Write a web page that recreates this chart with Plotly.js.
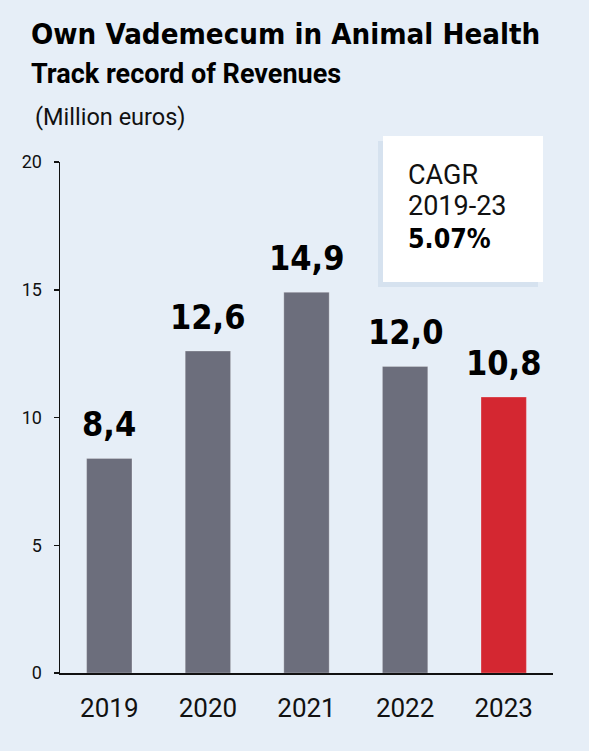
<!DOCTYPE html>
<html>
<head>
<meta charset="utf-8">
<script src="https://cdn.plot.ly/plotly-3.0.1.min.js"></script>
<style>html,body{margin:0;padding:0;background:#e6eef7;}</style>
</head>
<body>
<div id="chart" style="width:589px;height:751px;"></div>
<script>
const years = ["2019", "2020", "2021", "2022", "2023"];
const revenues = [8.4, 12.6, 14.9, 12.0, 10.8];
const barColors = ["#6c6e7c", "#6c6e7c", "#6c6e7c", "#6c6e7c", "#d42731"];
const yTicks = [0, 5, 10, 15, 20];
const titleText = "Own Vademecum in Animal Health";
const subtitleText = "Track record of Revenues";
const unitText = "(Million euros)";
const cagrLines = ["CAGR", "2019-23", "5.07%"];

const condensed = "DejaVu Sans Condensed, DejaVu Sans, sans-serif";
const roboto = "Roboto, sans-serif";

const trace = {
  type: "bar",
  x: years,
  y: revenues,
  marker: {color: barColors, line: {color: "rgba(255,255,255,0.25)", width: 1}},
  width: 0.46,
  hoverinfo: "none"
};

const annotations = [];
years.forEach((yr, i) => {
  annotations.push({
    x: i, y: revenues[i], xref: "x", yref: "y",
    text: revenues[i].toFixed(1).replace(".", ","),
    showarrow: false, yanchor: "bottom", yshift: 12,
    font: {family: condensed, size: 34, color: "#000", weight: 700}
  });
});

function px(xp) { return (xp - 60) / 493; }
function py(yp) { return (673 - yp) / 511; }

annotations.push({xref: "paper", yref: "paper", x: px(29), y: py(15), xanchor: "left", yanchor: "top",
  text: titleText, showarrow: false, font: {family: condensed, size: 29.2, color: "#000", weight: 700}});
annotations.push({xref: "paper", yref: "paper", x: px(29), y: py(56), xanchor: "left", yanchor: "top",
  text: subtitleText, showarrow: false, font: {family: "Liberation Sans Narrow, " + roboto, size: 27, color: "#000", weight: 700}});
annotations.push({xref: "paper", yref: "paper", x: px(33), y: py(101), xanchor: "left", yanchor: "top",
  text: unitText, showarrow: false, font: {family: roboto, size: 23.5, color: "#111"}});

annotations.push({xref: "paper", yref: "paper", x: px(406), y: py(157), xanchor: "left", yanchor: "top",
  text: cagrLines[0], showarrow: false, font: {family: roboto, size: 27, color: "#111"}});
annotations.push({xref: "paper", yref: "paper", x: px(406), y: py(188), xanchor: "left", yanchor: "top",
  text: cagrLines[1], showarrow: false, font: {family: roboto, size: 27, color: "#111"}});
annotations.push({xref: "paper", yref: "paper", x: px(406), y: py(221), xanchor: "left", yanchor: "top",
  text: cagrLines[2], showarrow: false, font: {family: condensed, size: 26.5, color: "#000", weight: 700}});

const shapes = [
  {type: "rect", xref: "paper", yref: "paper", x0: px(378), x1: px(538), y0: py(141), y1: py(287),
   fillcolor: "#d6e2ef", line: {width: 0}, layer: "below"},
  {type: "rect", xref: "paper", yref: "paper", x0: px(383), x1: px(543), y0: py(136), y1: py(282),
   fillcolor: "#ffffff", line: {width: 0}, layer: "below"}
];

const layout = {
  width: 589, height: 751,
  paper_bgcolor: "#e6eef7", plot_bgcolor: "#e6eef7",
  margin: {l: 60, r: 36, t: 162, b: 78, pad: 0},
  separators: ",.",
  showlegend: false,
  bargap: 0.54,
  xaxis: {
    type: "category", range: [-0.5, years.length - 0.5], showline: true, linecolor: "#111", linewidth: 1.5,
    ticks: "", showgrid: false, zeroline: false,
    tickfont: {family: roboto, size: 26, color: "#111"},
    ticklabelstandoff: 11, fixedrange: true
  },
  yaxis: {
    range: [0, 20], tickvals: yTicks, showline: true, linecolor: "#111", linewidth: 1.5,
    ticks: "outside", ticklen: 5, tickwidth: 1.5, tickcolor: "#111",
    showgrid: false, zeroline: false,
    tickfont: {family: roboto, size: 18, color: "#111"},
    ticklabelstandoff: 8, fixedrange: true
  },
  annotations: annotations,
  shapes: shapes
};

Plotly.newPlot("chart", [trace], layout, {displayModeBar: false, staticPlot: true});
</script>
</body>
</html>
